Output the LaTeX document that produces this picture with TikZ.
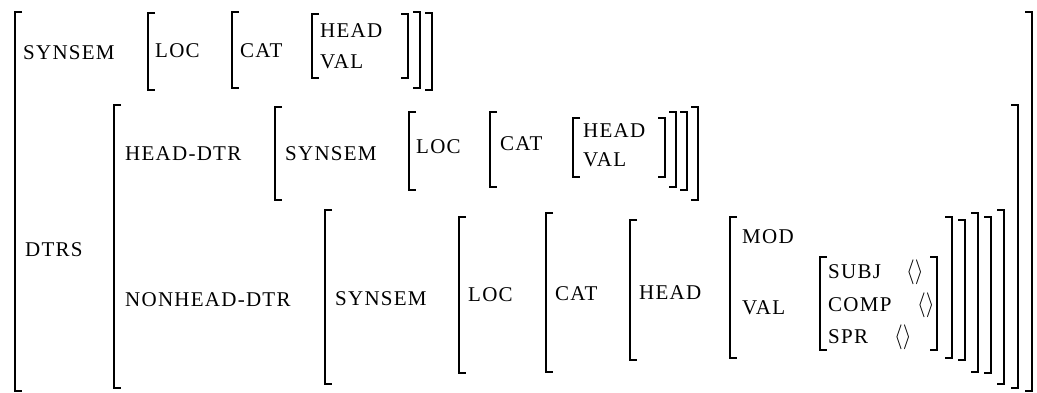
\documentclass[tikz,border=0pt]{standalone}
\usepackage{fontspec}
\usepackage{graphicx}
\setmainfont{Liberation Serif}[LetterSpace=6]
\usetikzlibrary{positioning}

% one pair of square brackets: left x, right x, top y, bottom y
\newcommand{\avmpair}[4]{%
  \draw[brak] ({#1+7},#3) -- (#1,#3) -- (#1,#4) -- ({#1+7},#4);
  \draw[brak] ({#2-7},#3) -- (#2,#3) -- (#2,#4) -- ({#2-7},#4);
}
\newcommand{\emptylist}{\scalebox{0.9}[1]{$\langle\rangle$}}

\begin{document}
\begin{tikzpicture}[x=1pt, y=-1pt,
    brak/.style={line width=1.5pt, line join=miter},
    attr/.style={anchor=base west, inner sep=0pt, font=\fontsize{21}{21}\selectfont},
    lst/.style={anchor=base west, inner sep=0pt, font=\fontsize{27}{27}\selectfont}]
    \useasboundingbox (0,0) rectangle (1037,392);

    % outer matrix
    \avmpair{15}{1032}{12}{391}

    % SYNSEM row
    \node[attr] (synsem) at (23,59) {SYNSEM};
    \avmpair{148}{432}{13}{90}
    \node[attr] (loc) at (155,57) {LOC};
    \avmpair{232}{420}{12}{88}
    \node[attr] (cat) at (240,57) {CAT};
    \avmpair{312}{408}{14}{78}
    \node[attr] (head) at (320,37) {HEAD};
    \node[attr] (val) at (320,68) {VAL};

    % DTRS row
    \node[attr] (dtrs) at (25,256) {DTRS};
    \avmpair{114}{1018}{105}{388}

    % head daughter
    \node[attr] (hdtr) at (125,160) {HEAD-DTR};
    \avmpair{275}{698}{107}{200}
    \node[attr] (hsynsem) at (285,160) {SYNSEM};
    \avmpair{409}{687}{112}{190}
    \node[attr] (hloc) at (416,153) {LOC};
    \avmpair{490}{676}{112}{187}
    \node[attr] (hcat) at (500,150) {CAT};
    \avmpair{573}{665}{118}{177}
    \node[attr] (hhead) at (583,137) {HEAD};
    \node[attr] (hval) at (583,166) {VAL};

    % nonhead daughter
    \node[attr] (ndtr) at (125,306) {NONHEAD-DTR};
    \avmpair{325}{1004}{210}{384}
    \node[attr] (nsynsem) at (335,305) {SYNSEM};
    \avmpair{459}{991}{217}{373}
    \node[attr] (nloc) at (468,301) {LOC};
    \avmpair{546}{978}{213}{372}
    \node[attr] (ncat) at (555,300) {CAT};
    \avmpair{630}{965}{220}{360}
    \node[attr] (nhead) at (639,299) {HEAD};
    \avmpair{730}{952}{217}{358}
    \node[attr] (mod) at (742,243) {MOD};
    \node[attr] (nval) at (742,314) {VAL};
    \avmpair{820}{937}{257}{350}
    \node[attr] (subj) at (828,278) {SUBJ};
    \node[attr] (comp) at (828,311) {COMP};
    \node[attr] (spr) at (828,343) {SPR};
    \node[lst] (subjl) at (906,278) {\emptylist};
    \node[lst] (compl) at (917,311) {\emptylist};
    \node[lst] (sprl) at (894,343) {\emptylist};
\end{tikzpicture}
\end{document}
